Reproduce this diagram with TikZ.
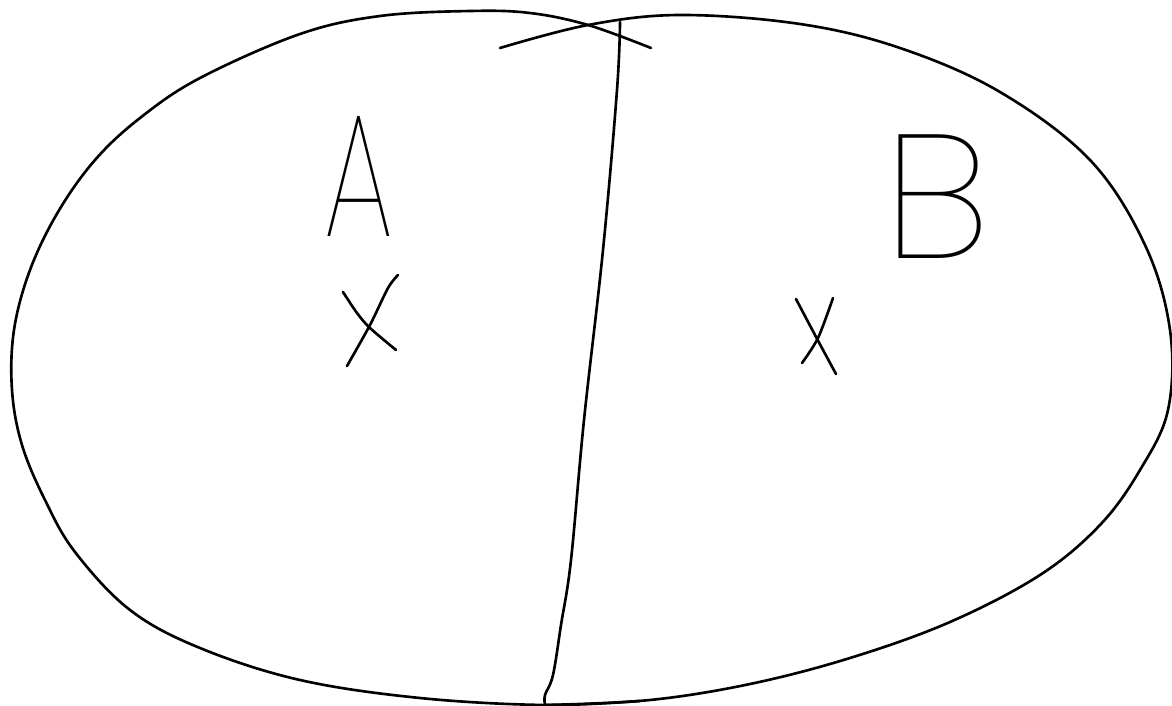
\documentclass[tikz,border=0pt]{standalone}
\usepackage{tikz}
\usepackage{fontspec}
\usetikzlibrary{calc}
\newfontfamily\thinfont{Poppins}[UprightFont=* Thin]

\begin{document}
\begin{tikzpicture}[x=0.01cm,y=-0.01cm,line cap=round,line join=round]
\tikzset{
  pen/.style={line width=0.75pt},
  letter/.style={inner sep=0pt,font=\fontsize{50}{50}\selectfont\thinfont}
}
\useasboundingbox (0,0) rectangle (1172,706);

% ----- left oval half -----
\draw[pen] plot[smooth,tension=0.6] coordinates {
  (651,48) (588,25) (530,13) (470,11) (380,16) (300,34) (200,78) (140,118)
  (95,160) (58,212) (30,270) (14,330) (12,390) (22,445) (45,500) (75,552)
  (130,610) (200,648) (300,680) (420,698) (545,705) (640,701)};

% ----- right oval half -----
\draw[pen] plot[smooth,tension=0.6] coordinates {
  (500,48) (588,25) (680,15) (800,24) (900,48) (1000,92) (1090,160)
  (1145,245) (1170,330) (1168,410) (1140,470) (1100,525) (1040,575)
  (950,622) (850,658) (750,684) (650,700) (545,705)};

% ----- dividing line -----
\coordinate (top) at (620,22);
\coordinate (bot) at (545,704);
\draw[pen] plot[smooth,tension=0.6] coordinates {
  (top) (617,90) (603,250) (584,420) (571,560) (561,625) (553,675)
  (545,695) (bot)};

% ----- labels -----
\node[letter,xscale=0.65] (lblA) at (359,176) {A};
\node[letter,xscale=1.1] (lblB) at (937,197) {B};

% ----- crosses -----
\draw[pen] plot[smooth] coordinates {(343,292) (357,313) (370,328) (396,350)};
\draw[pen] plot[smooth] coordinates {(398,275) (388,288) (370,325) (347,366)};

\draw[pen] plot[smooth] coordinates {(796,299) (815,335) (836,374)};
\draw[pen] plot[smooth] coordinates {(833,298) (818,338) (802,363)};

\end{tikzpicture}
\end{document}
